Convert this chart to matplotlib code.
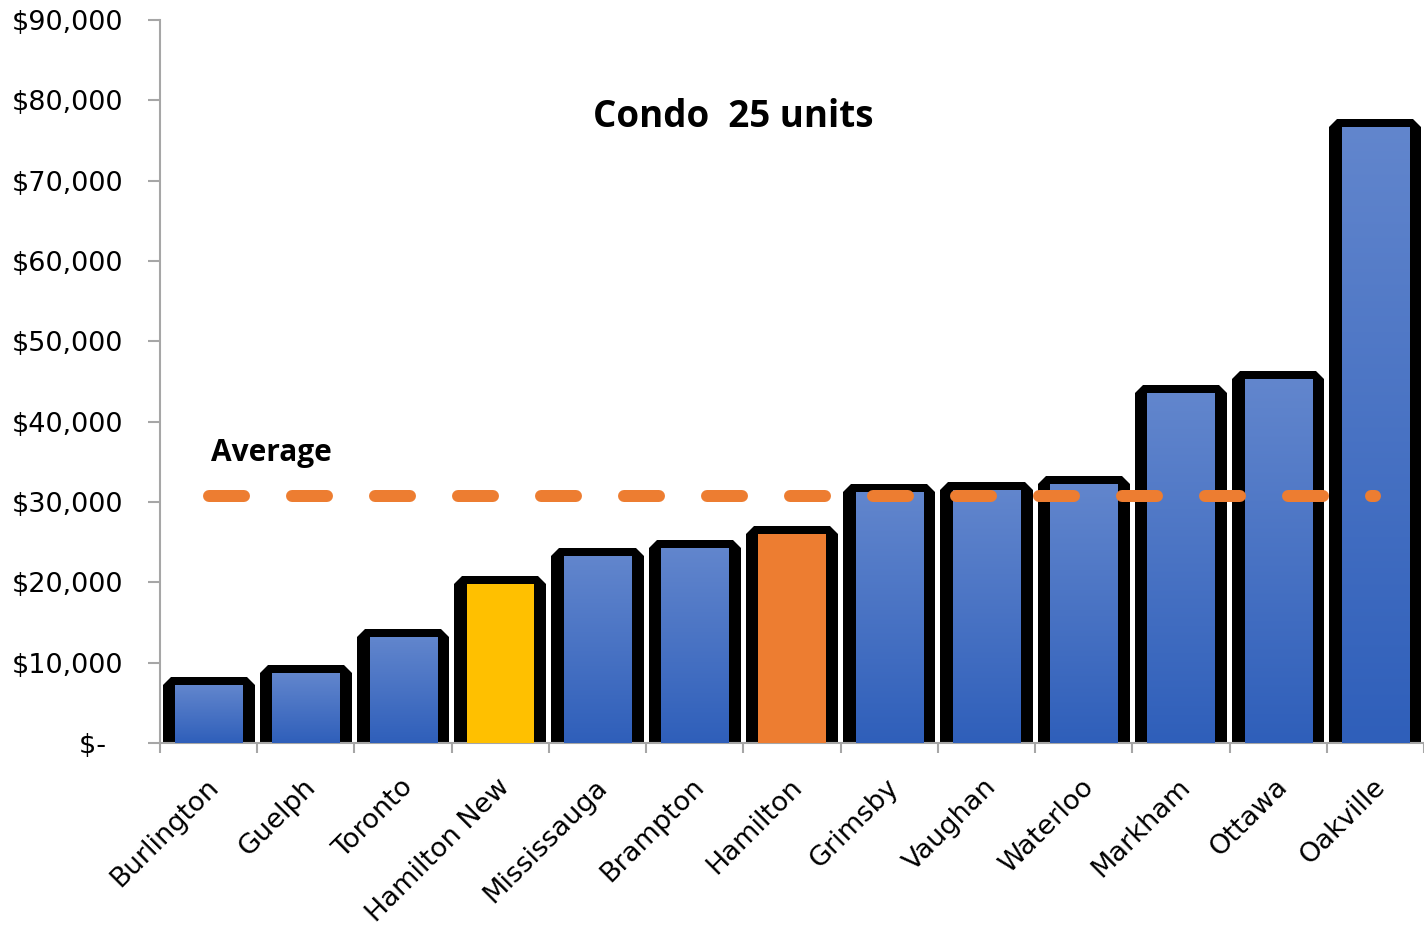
import numpy as np
import matplotlib
matplotlib.use("Agg")
import matplotlib.pyplot as plt
from matplotlib.patches import Rectangle
from matplotlib.colors import LinearSegmentedColormap
from matplotlib.ticker import FixedLocator, FuncFormatter
import matplotlib.transforms as mtransforms

# Data
cities = ["Burlington", "Guelph", "Toronto", "Hamilton New", "Mississauga",
          "Brampton", "Hamilton", "Grimsby", "Vaughan", "Waterloo",
          "Markham", "Ottawa", "Oakville"]
charges = [7200, 8700, 13200, 19800, 23300, 24300, 26000,
           31300, 31500, 32300, 43600, 45300, 76700]
highlight = {"Hamilton New": "#FFC000", "Hamilton": "#ED7D31"}
average_value = 30750
title_text = "Condo  25 units"
average_label = "Average"

DPI = 100
fig = plt.figure(figsize=(14.24, 9.30), dpi=DPI)
ax = fig.add_axes([160 / 1424, 187 / 930, 1264 / 1424, 723 / 930])

x = np.arange(len(cities))

px_per_cat = 1264 / len(cities)
inner_w = 0.69
halo_px = 8          # stroke half-width of the dark backing, px
side_px = 4.5        # extra side width of the dark backing, px
back_w = inner_w + 2 * side_px / px_per_cat

blue_grad = LinearSegmentedColormap.from_list("bluegrad", ["#2F5FBA", "#6286CD"])
grad = np.linspace(0, 1, 256).reshape(-1, 1)

for xi, name, val in zip(x, cities, charges):
    # dark bevelled backing
    back = Rectangle((xi - back_w / 2, 0), back_w, val,
                     facecolor="black", edgecolor="black",
                     linewidth=2 * halo_px * 72 / DPI, joinstyle="bevel",
                     zorder=2)
    ax.add_patch(back)
    front = Rectangle((xi - inner_w / 2, 0), inner_w, val,
                      facecolor=highlight.get(name, "none"),
                      edgecolor="none", zorder=3)
    ax.add_patch(front)
    if name not in highlight:
        im = ax.imshow(grad, cmap=blue_grad, origin="lower", aspect="auto",
                       extent=(xi - inner_w / 2, xi + inner_w / 2, 0, val),
                       zorder=3, interpolation="bilinear")
        im.set_clip_path(front)

ax.set_xlim(-0.5, len(cities) - 0.5)
ax.set_ylim(0, 90000)

# average line
lw_px = 12
ax.plot([x[0], x[-1]], [average_value, average_value], color="#ED7D31",
        linewidth=lw_px * 72 / DPI, solid_capstyle="round",
        dash_capstyle="round", dashes=(35 / lw_px, 48 / lw_px), zorder=5)

ax.text(0.02, 36100, average_label, fontsize=21.5, fontweight="bold",
        family="Open Sans", ha="left", va="center", zorder=6)

ax.text((733 - 160) / 1264, (743 - 117) / 723, title_text, transform=ax.transAxes,
        fontsize=26.5, fontweight="bold", family="Open Sans",
        ha="center", va="center")

# axes styling
for side in ("top", "right"):
    ax.spines[side].set_visible(False)
for side in ("left", "bottom"):
    ax.spines[side].set_color("#A6A6A6")
    ax.spines[side].set_linewidth(1.5)

ax.yaxis.set_major_locator(FixedLocator(np.arange(0, 90001, 10000)))
ax.yaxis.set_major_formatter(FuncFormatter(
    lambda v, p: "$-  " if v == 0 else f"${v:,.0f}"))
ax.tick_params(axis="y", length=12 * 72 / DPI, width=1.5, color="#A6A6A6",
               labelsize=19.5, pad=18, labelcolor="black")

ax.set_xticks(np.arange(-0.5, len(cities) + 0.5, 1.0))
ax.set_xticklabels([])
ax.tick_params(axis="x", length=10 * 72 / DPI, width=1.5, color="#A6A6A6")

offset = mtransforms.ScaledTranslation(6 / DPI, -40 / DPI, fig.dpi_scale_trans)
for xi, name in zip(x, cities):
    ax.text(xi, 0, name, transform=ax.get_xaxis_transform() + offset,
            rotation=45, rotation_mode="anchor", ha="right", va="center",
            fontsize=19.5, color="black")

fig.savefig("out.png", dpi=DPI, facecolor="white")
